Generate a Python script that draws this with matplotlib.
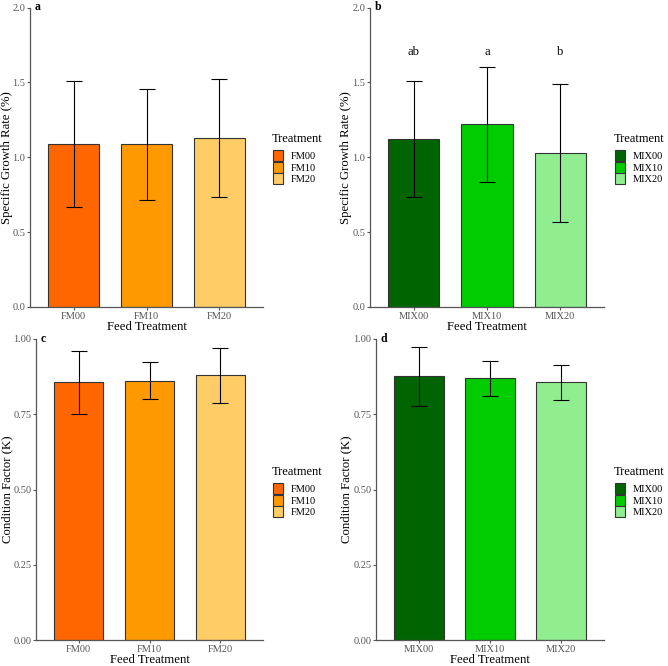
import matplotlib
matplotlib.use("Agg")
import matplotlib.pyplot as plt
from matplotlib.patches import Patch

plt.rcParams["font.family"] = ["Liberation Serif", "DejaVu Serif"]

W, H = 668, 666

# ── data ─────────────────────────────────────────────────────────────────────
fm_groups = ["FM00", "FM10", "FM20"]
mix_groups = ["MIX00", "MIX10", "MIX20"]
fm_colors = ["#FF6600", "#FF9900", "#FFCC66"]
mix_colors = ["#006400", "#00CC00", "#90EE90"]

sgr_fm_mean = [1.089, 1.087, 1.131]
sgr_fm_sd = [0.418, 0.372, 0.394]
sgr_mix_mean = [1.123, 1.221, 1.029]
sgr_mix_sd = [0.389, 0.384, 0.462]
sgr_mix_letters = ["ab", "a", "b"]

k_fm_mean = [0.856, 0.862, 0.879]
k_fm_sd = [0.104, 0.062, 0.091]
k_mix_mean = [0.876, 0.869, 0.856]
k_mix_sd = [0.097, 0.059, 0.059]


def panel(x0, x1, ytop, ybot, groups, colors, mean, sd, ymax, yticks, ylabel,
          tag, ylab_x, xlab_y, leg_xy, letters=None, letter_y=None):
    ax = fig.add_axes([x0 / W, 1 - ybot / H, (x1 - x0) / W, (ybot - ytop) / H])
    x = list(range(1, len(groups) + 1))
    ax.bar(x, mean, width=0.7, color=colors, edgecolor="#333333",
           linewidth=0.8, zorder=2)
    ax.errorbar(x, mean, yerr=sd, fmt="none", ecolor="black", elinewidth=0.8,
                capsize=6, capthick=0.8, zorder=3)
    ax.set_xlim(0.4, 3.6)
    ax.set_ylim(0, ymax)
    ax.set_xticks(x)
    ax.set_xticklabels(groups)
    ax.set_yticks(yticks)
    ax.set_yticklabels([f"{v:.2f}" if ymax == 1 else f"{v:.1f}" for v in yticks])
    for s in ["top", "right"]:
        ax.spines[s].set_visible(False)
    for s in ["left", "bottom"]:
        ax.spines[s].set_color("#555555")
        ax.spines[s].set_linewidth(0.9)
    ax.tick_params(colors="#555555", labelcolor="#555555", labelsize=7.5,
                   length=2.2, width=0.8, pad=1.2)
    ax.set_ylabel(ylabel, fontsize=9.2, va="center")
    ax.yaxis.set_label_coords((ylab_x - x0) / (x1 - x0), 0.5)
    ax.set_xlabel("Feed Treatment", fontsize=9.2, va="center")
    ax.xaxis.set_label_coords(0.5, (ybot - xlab_y) / (ybot - ytop))
    ax.text(0.02, 1.0, tag, transform=ax.transAxes, fontsize=8.5,
            fontweight="bold", ha="left", va="center")
    if letters:
        for xi, lt in zip(x, letters):
            ax.text(xi, letter_y, lt, ha="center", va="center", fontsize=9)

    # legend: title as its own text, keys stacked below it
    lx, ly = leg_xy
    fig.text(lx / W, 1 - ly / H, "Treatment", fontsize=9, ha="left",
             va="center")
    handles = [Patch(facecolor=c, edgecolor="#333333", linewidth=0.8)
               for c in colors]
    fig.legend(handles, groups, loc="upper left",
               bbox_to_anchor=((lx + 1) / W, 1 - (ly + 11) / H),
               frameon=False, fontsize=7.5,
               handlelength=0.95, handleheight=1.25, labelspacing=0.05,
               handletextpad=0.75, borderpad=0, borderaxespad=0)
    return ax


fig = plt.figure(figsize=(W / 100, H / 100), dpi=100)
fig.patch.set_facecolor("white")

panel(30, 263, 7.5, 307, fm_groups, fm_colors, sgr_fm_mean, sgr_fm_sd,
      2.0, [0.0, 0.5, 1.0, 1.5, 2.0], "Specific Growth Rate (%)", "a",
      7.5, 327, (272, 139))
panel(370, 604, 7.5, 307, mix_groups, mix_colors, sgr_mix_mean, sgr_mix_sd,
      2.0, [0.0, 0.5, 1.0, 1.5, 2.0], "Specific Growth Rate (%)", "b",
      346.5, 327, (614, 139), letters=sgr_mix_letters, letter_y=1.7)
panel(36, 263, 339, 640, fm_groups, fm_colors, k_fm_mean, k_fm_sd,
      1.0, [0.0, 0.25, 0.5, 0.75, 1.0], "Condition Factor (K)", "c",
      7.5, 660, (272, 472))
panel(376, 604, 339, 640, mix_groups, mix_colors, k_mix_mean, k_mix_sd,
      1.0, [0.0, 0.25, 0.5, 0.75, 1.0], "Condition Factor (K)", "d",
      346.5, 660, (614, 472))

fig.savefig("out.png", dpi=100, facecolor="white")
